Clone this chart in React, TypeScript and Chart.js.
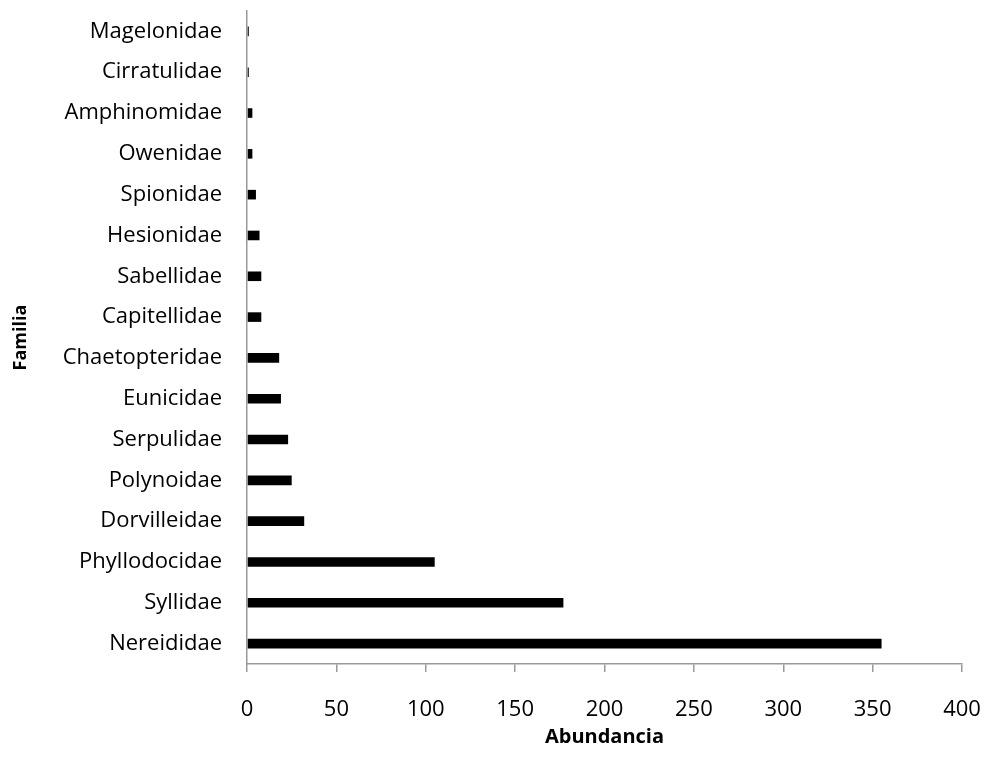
import React, { useEffect, useRef } from "react";
import { Chart, registerables } from "chart.js";

Chart.register(...registerables);

const families: string[] = [
  "Magelonidae",
  "Cirratulidae",
  "Amphinomidae",
  "Owenidae",
  "Spionidae",
  "Hesionidae",
  "Sabellidae",
  "Capitellidae",
  "Chaetopteridae",
  "Eunicidae",
  "Serpulidae",
  "Polynoidae",
  "Dorvilleidae",
  "Phyllodocidae",
  "Syllidae",
  "Nereididae",
];

const abundance: number[] = [1, 1, 3, 3, 5, 7, 8, 8, 18, 19, 23, 25, 32, 105, 177, 355];

const xMin = 0;
const xMax = 400;
const xStep = 50;

const xTitle = "Abundancia";
const yTitle = "Familia";

export default function App() {
  const ref = useRef<HTMLCanvasElement | null>(null);

  useEffect(() => {
    if (!ref.current) return;
    const chart = new Chart(ref.current, {
      type: "bar",
      data: {
        labels: families,
        datasets: [
          {
            data: abundance,
            backgroundColor: "#000000",
            borderWidth: 0,
            categoryPercentage: 1,
            barPercentage: 0.235,
          },
        ],
      },
      options: {
        indexAxis: "y",
        responsive: false,
        animation: false,
        layout: { padding: { left: 0, right: 27, top: 11, bottom: 0 } },
        plugins: {
          legend: { display: false },
          tooltip: { enabled: false },
        },
        scales: {
          x: {
            type: "linear",
            min: xMin,
            max: xMax,
            ticks: {
              stepSize: xStep,
              color: "#000",
              padding: 25,
              font: { family: "'Open Sans'", size: 22 },
            },
            grid: {
              display: true,
              drawOnChartArea: false,
              drawTicks: true,
              tickLength: 8,
              color: "#999999",
              lineWidth: 1.5,
            },
            border: { display: true, color: "#999999", width: 1.5 },
            title: {
              display: true,
              text: xTitle,
              color: "#000",
              font: { family: "'Open Sans'", size: 20, weight: "bold" },
              padding: { top: 0, bottom: 25 },
            },
            afterFit: (scale: any) => {
              scale.height = 110;
              scale.paddingLeft = 0;
              scale.paddingRight = 0;
              scale.paddingTop = 0;
              scale.paddingBottom = 0;
            },
          },
          y: {
            type: "category",
            ticks: {
              color: "#000",
              padding: 25,
              font: { family: "'Open Sans'", size: 22 },
            },
            grid: { display: false, drawTicks: false },
            border: { display: true, color: "#999999", width: 1.5 },
            title: {
              display: true,
              text: yTitle,
              color: "#000",
              font: { family: "'Open Sans'", size: 18, weight: "bold" },
              padding: { top: 10, bottom: 0 },
            },
            afterFit: (scale: any) => {
              scale.width = 247;
              scale.paddingLeft = 0;
              scale.paddingRight = 0;
              scale.paddingTop = 0;
              scale.paddingBottom = 0;
            },
          },
        },
      },
    });
    return () => chart.destroy();
  }, []);

  return (
    <div style={{ position: "fixed", left: 0, top: 0, width: 989, height: 774, background: "#fff" }}>
      <canvas ref={ref} width={989} height={774} style={{ display: "block" }} />
    </div>
  );
}
